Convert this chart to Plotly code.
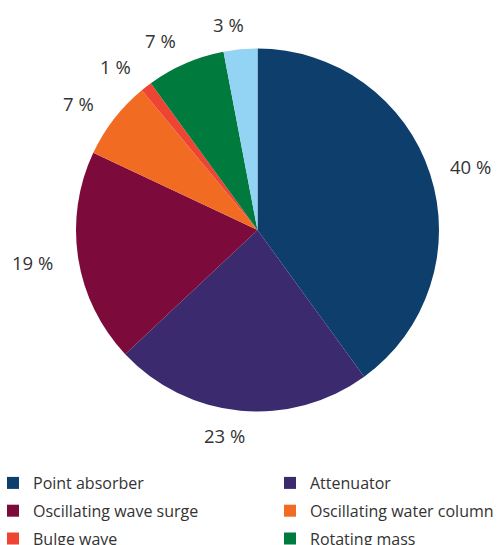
import math
import plotly.graph_objects as go

categories = ["Point absorber", "Attenuator", "Oscillating wave surge",
              "Oscillating water column", "Bulge wave", "Rotating mass", "Other"]
values = [40, 23, 19, 7, 1, 7, 3]
colors = ["#0e3e6b", "#3b2b6e", "#7c0b3b", "#f26b22", "#ee4433", "#007a3d", "#93d4f4"]
value_labels = [f"{v} %" for v in values]

W, H = 500, 545
cx, cy, r = 257.5, 230, 181.5   # pie centre (px from top-left of figure) and radius
FS = 18.5

fig = go.Figure()
fig.add_trace(go.Pie(
    labels=categories, values=values, sort=False, direction="clockwise", rotation=0,
    marker=dict(colors=colors, line=dict(width=0)),
    textinfo="none", showlegend=False,
    domain=dict(x=[(cx - r) / W, (cx + r) / W], y=[(H - cy - r) / H, (H - cy + r) / H]),
    hoverinfo="label+percent",
))

# percentage labels outside the slices, placed at each slice's mid-angle
total = sum(values)
cum = 0
R = r + 25
for v, txt in zip(values, value_labels):
    mid = (cum + v / 2) / total * 2 * math.pi
    cum += v
    ux, uy = math.sin(mid), math.cos(mid)  # uy positive = up
    ndig = len(txt) - 2
    w = (ndig * 0.57 + 0.26 + 0.84) * FS
    f = min(1.0, 0.55 + abs(ux)) if ux < 0 else min(0.8, 0.55 + abs(ux))
    px = cx + R * ux + math.copysign(w / 2 * f, ux)
    py = (H - cy) + R * uy
    fig.add_annotation(x=px / W, y=py / H, xref="paper", yref="paper", text=txt,
                       showarrow=False, xanchor="center", yanchor="middle",
                       font=dict(size=FS, color="#333333", family="Open Sans"))

# legend entries (two columns)
for i, (cat, col) in enumerate(zip(categories, colors)):
    fig.add_trace(go.Scatter(
        x=[None], y=[None], mode="markers", name=cat,
        marker=dict(symbol="square", size=12, color=col, line=dict(width=0)),
        legend="legend" if i % 2 == 0 else "legend2", legendgroup=cat,
        hoverinfo="skip", showlegend=True,
    ))

leg_common = dict(orientation="v", yanchor="top", xanchor="left", y=1 - 466 / H,
                  tracegroupgap=4, font=dict(size=16, color="#333333", family="Open Sans"),
                  bgcolor="rgba(0,0,0,0)", traceorder="grouped")
fig.update_layout(
    width=W, height=H, margin=dict(l=0, r=0, t=0, b=0, autoexpand=False),
    paper_bgcolor="white", plot_bgcolor="white",
    font=dict(family="Open Sans", color="#333333", size=16),
    xaxis=dict(visible=False), yaxis=dict(visible=False),
    legend=dict(x=-7 / W, **leg_common),
    legend2=dict(x=270 / W, **leg_common),
)
fig.write_html("out.html", config={"displayModeBar": False},
               post_script="document.body.style.margin='0';")
